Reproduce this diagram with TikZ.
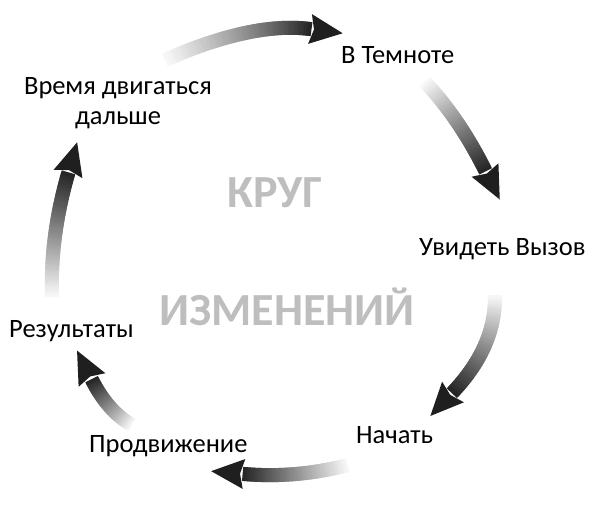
\documentclass[tikz,border=0pt]{standalone}
\usepackage{fontspec}
\setmainfont{Carlito}
\usetikzlibrary{calc}
\definecolor{titlegray}{RGB}{190,190,190}
\tikzset{
  lbl/.style={inner sep=0pt, anchor=base west, font=\fontsize{26.5}{30}\selectfont, text=black},
  ttl/.style={inner sep=0pt, anchor=base, font=\fontsize{46}{50}\selectfont\bfseries, text=titlegray},
  headfill/.style={fill=black!88}
}
\newcommand\gradarrow[3]{%
  \foreach \i in {0,...,59}{
    \pgfmathsetmacro\ta{\i/60}
    \pgfmathsetmacro\tb{(\i+1.8)/60}
    \pgfmathsetmacro\pc{int(3+82*\i/59)}
    \draw[line width=14pt, draw=black!\pc!white]
      ($($(#1)!\ta!(#2)$)!\ta!($(#2)!\ta!(#3)$)$) --
      ($($(#1)!\tb!(#2)$)!\tb!($(#2)!\tb!(#3)$)$);
  }
  \coordinate (#3tip) at ($(#3)!-33pt!(#2)$);
  \fill[headfill] (#3tip) -- ($(#3)!15pt!90:(#3tip)$) -- ($(#3)!4pt!(#3tip)$) -- ($(#3)!15pt!-90:(#3tip)$) -- cycle;
}
\begin{document}
\begin{tikzpicture}[x=1pt,y=-1pt]
\useasboundingbox (0,0) rectangle (608,506);
% labels
\node[lbl] (dark) at (341,63) {В Темноте};
\node[lbl] (see) at (419,255) {Увидеть Вызов};
\node[lbl] (start) at (356,443) {Начать};
\node[lbl] (prog) at (89,452) {Продвижение};
\node[lbl] (res) at (9,337) {Результаты};
\node[inner sep=0pt, anchor=center, align=center, font=\fontsize{26.5}{30}\selectfont] (move) at (118,103) {Время двигаться\\дальше};
% title
\node[ttl] (t1) at (275,207) {КРУГ};
\node[ttl] (t2) at (287,325) {ИЗМЕНЕНИЙ};
% arrow geometry
\coordinate (a1t) at (165,60);  \coordinate (a1c) at (252.5,21.5); \coordinate (a1h) at (310,29);
\coordinate (a2t) at (425,82);  \coordinate (a2c) at (459,118);    \coordinate (a2h) at (485,170);
\coordinate (a3t) at (495,295); \coordinate (a3c) at (496,346.5);  \coordinate (a3h) at (453,392);
\coordinate (a4t) at (348,465); \coordinate (a4c) at (296,478.5);  \coordinate (a4h) at (244,474);
\coordinate (a5t) at (132,425); \coordinate (a5c) at (108,411.5);  \coordinate (a5h) at (92,380);
\coordinate (a6t) at (52,297);  \coordinate (a6c) at (50,236.5);   \coordinate (a6h) at (68,174);
\gradarrow{a1t}{a1c}{a1h}
\gradarrow{a2t}{a2c}{a2h}
\gradarrow{a3t}{a3c}{a3h}
\gradarrow{a4t}{a4c}{a4h}
\gradarrow{a5t}{a5c}{a5h}
\gradarrow{a6t}{a6c}{a6h}
\end{tikzpicture}
\end{document}
